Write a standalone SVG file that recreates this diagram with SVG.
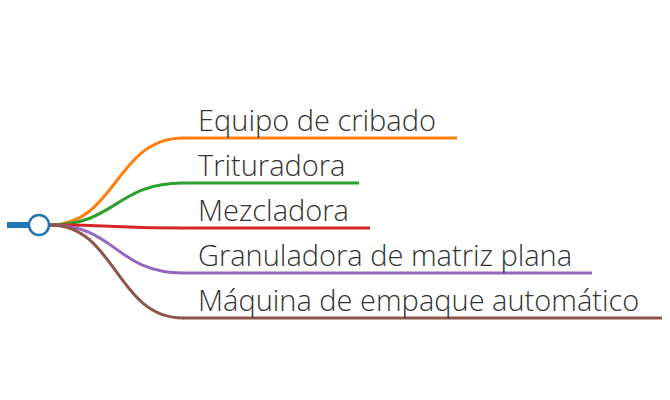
<svg xmlns="http://www.w3.org/2000/svg" width="670" height="400" viewBox="0 0 670 400">
<style>
.lk{fill:none;stroke-width:3;stroke-linecap:round}
.t{font-family:"Open Sans","Liberation Sans",sans-serif;font-weight:300;font-size:29px;fill:#333}
</style>
<rect width="670" height="400" fill="#fff"/>
<g id="connectors">
<path class="lk" stroke="#ff7f0e" d="M50,225 C116,225 116,138 183,138"/>
<path class="lk" stroke="#2ca02c" d="M50,225 C116,225 116,183 183,183"/>
<path class="lk" stroke="#d62728" d="M50,225 C116,225 116,228 183,228"/>
<path class="lk" stroke="#9467bd" d="M50,225 C116,225 116,273 183,273"/>
<path class="lk" stroke="#8c564b" d="M50,225 C116,225 116,318 183,318"/>
</g>
<g id="root">
<line x1="7" y1="225" x2="29" y2="225" stroke="#1f77b4" stroke-width="6"/>
<circle cx="39" cy="225" r="10" fill="#fff" stroke="#1f77b4" stroke-width="2.5"/>
</g>
<g id="n1">
<line x1="183" y1="138" x2="457" y2="138" stroke="#ff7f0e" stroke-width="3"/>
<text class="t" x="198" y="131">Equipo de cribado</text>
</g>
<g id="n2">
<line x1="183" y1="183" x2="359" y2="183" stroke="#2ca02c" stroke-width="3"/>
<text class="t" x="198" y="176">Trituradora</text>
</g>
<g id="n3">
<line x1="183" y1="228" x2="370" y2="228" stroke="#d62728" stroke-width="3"/>
<text class="t" x="198" y="221">Mezcladora</text>
</g>
<g id="n4">
<line x1="183" y1="273" x2="592" y2="273" stroke="#9467bd" stroke-width="3"/>
<text class="t" x="198" y="266">Granuladora de matriz plana</text>
</g>
<g id="n5">
<line x1="183" y1="318" x2="662" y2="318" stroke="#8c564b" stroke-width="3"/>
<text class="t" x="198" y="311">Máquina de empaque automático</text>
</g>
</svg>
